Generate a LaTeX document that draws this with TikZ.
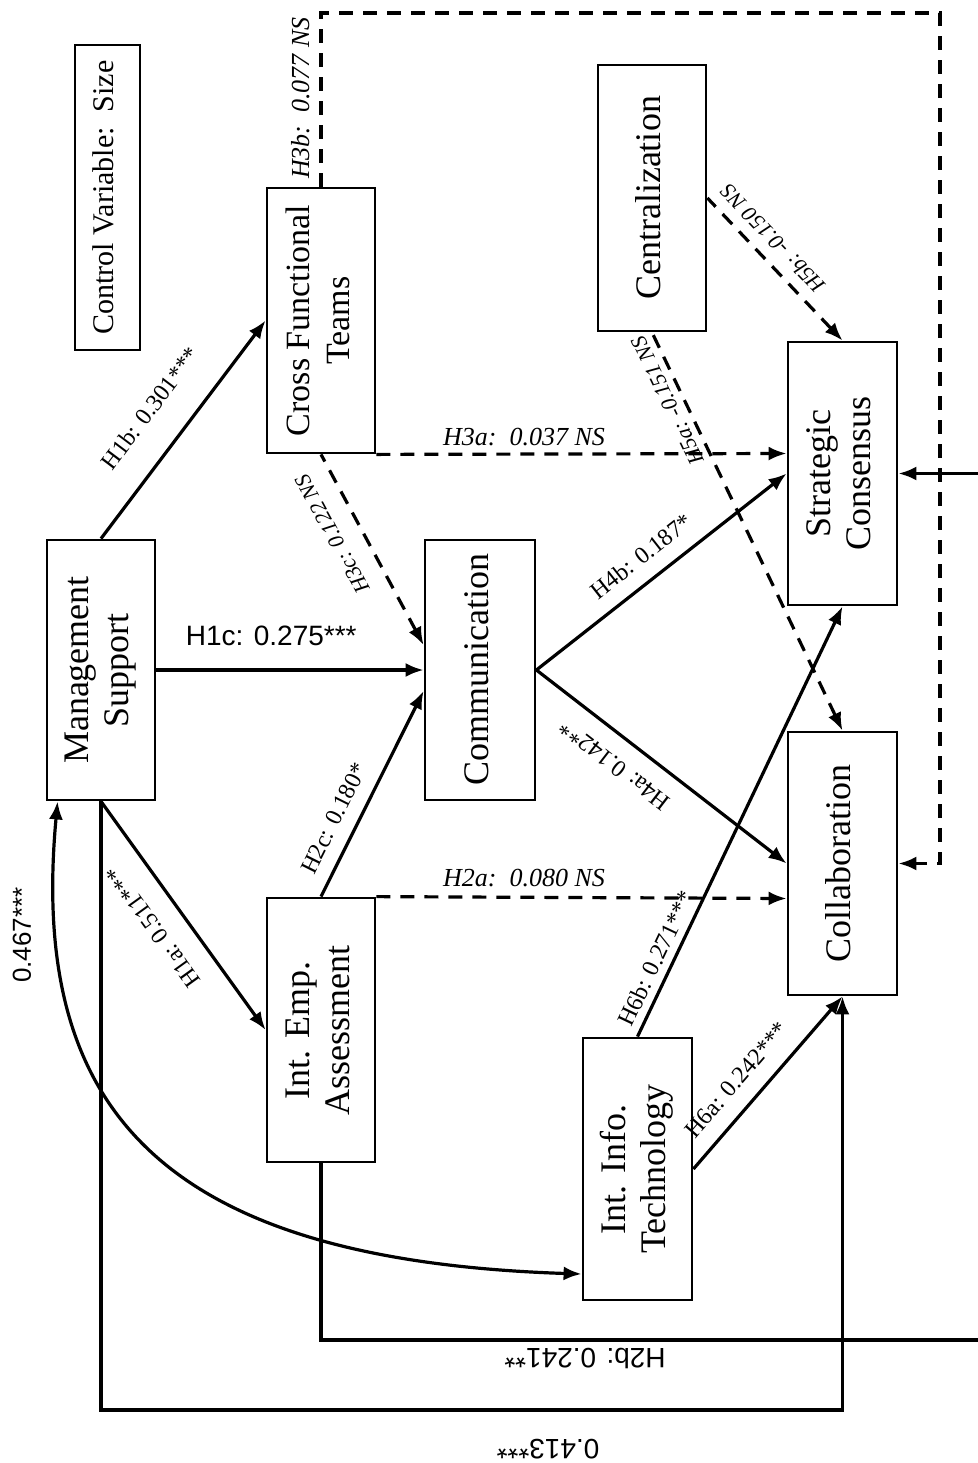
\documentclass[tikz,border=0pt]{standalone}
\usepackage{fontspec}
\usepackage{graphicx}
\setmainfont{Liberation Serif}
\newfontfamily\labsans{Liberation Sans}
\usetikzlibrary{arrows.meta,calc}
\newcommand\vlab[1]{\rotatebox{90}{\begin{tabular}{@{}c@{}}#1\end{tabular}}}
\begin{document}
\begin{tikzpicture}[x=0.5pt, y=-0.5pt,
    box/.style={draw, line width=1.4pt, inner sep=0pt, font=\fontsize{18}{20}\selectfont},
    arr/.style={line width=1.6pt, -{Latex[length=9pt,width=7pt]}},
    rarr/.style={line width=1.6pt, {Latex[length=9pt,width=7pt]}-},
    botharr/.style={line width=1.6pt, {Latex[length=9pt,width=7pt]}-{Latex[length=9pt,width=7pt]}},
    nsline/.style={dash pattern=on 7pt off 5pt},
    lab/.style={sloped, inner sep=1pt, font=\fontsize{12}{12}\selectfont},
    nslab/.style={sloped, inner sep=1pt, font=\fontsize{11}{11}\selectfont\itshape},
    flip/.style={allow upside down},
    hlab/.style={inner sep=1pt, font=\labsans\fontsize{14}{14}\selectfont},
    ilab/.style={inner sep=1pt, font=\fontsize{13}{13}\selectfont\itshape}
]
\useasboundingbox (0,0) rectangle (978,1463);

% constructs
\node[box, minimum width=32.5pt, minimum height=152.5pt, font=\fontsize{15}{15}\selectfont] (ctrl) at (107.5,197.5) {\vlab{Control Variable:~~Size}};
\node[box, minimum width=54pt, minimum height=130pt] (ms) at (101,670) {\vlab{Management\\Support}};
\node[box, minimum width=54pt, minimum height=132.5pt, font=\fontsize{17}{20}\selectfont] (cft) at (321,320.5) {\vlab{Cross Functional\\Teams}};
\node[box, minimum width=55pt, minimum height=130pt] (comm) at (480,670) {\vlab{Communication}};
\node[box, minimum width=54pt, minimum height=132pt] (iea) at (321,1030) {\vlab{Int. Emp.\\Assessment}};
\node[box, minimum width=54pt, minimum height=133pt] (cent) at (652,198) {\vlab{Centralization}};
\node[box, minimum width=54.5pt, minimum height=131.5pt] (sc) at (842.5,473.5) {\vlab{Strategic\\Consensus}};
\node[box, minimum width=54.5pt, minimum height=131.5pt] (col) at (842.5,863.5) {\vlab{Collaboration}};
\node[box, minimum width=54.5pt, minimum height=131pt] (iit) at (637.5,1169) {\vlab{Int. Info.\\Technology}};

% corners of the outer paths
\coordinate (tr) at (940,13);
\coordinate (br) at (995,1340);
\coordinate (bl) at (842.5,1410);

% management support
\draw[arr] (ms.north) -- node[lab, above=13.6pt, pos=0.49] (l1b) {H1b: 0.301***} (cft.west);
\draw[arr] (ms.east) -- node[hlab, above=10.5pt, pos=0.43] (l1c) {H1c: 0.275***} (comm.west);
\draw[rarr] (iea.west) -- node[lab, flip, above=9.4pt, pos=0.53] (l1a) {H1a: 0.511***} (ms.south);
\draw[arr] (ms.south) |- (bl) -- (col.south);
\draw[botharr] ($(iit.west)+(0,105)$) .. controls (150,1260) and (30,1100) .. ($(ms.south west)+(12,0)$);

% cross functional teams
\draw[rarr, nsline] ($(comm.west)+(0,-25)$) -- node[nslab, flip, above=8.2pt, pos=0.65] (l3c) {H3c: 0.122 NS} (cft.south);
\draw[arr, nsline] (cft.south east) -- node[ilab, above=2.5pt, pos=0.36] (l3a) {H3a:~~0.037 NS} ($(sc.west)+(0,-20)$);
\draw[arr, nsline] (cft.north) |- node[ilab, sloped, above=4pt, pos=0.255] (l3b) {H3b:~~0.077 NS} (tr) |- (col.east);

% int. emp. assessment
\draw[arr] (iea.north) -- node[lab, above=5.8pt, pos=0.33] (l2c) {H2c: 0.180*} ($(comm.west)+(0,21)$);
\draw[arr, nsline] (iea.north east) -- node[ilab, above=3.5pt, pos=0.36] (l2a) {H2a:~~0.080 NS} ($(col.west)+(0,35)$);
\draw[arr] (iea.south) |- (br) |- (sc.east);

% communication
\draw[arr] (comm.east) -- node[lab, above=6.3pt, pos=0.48] (l4b) {H4b: 0.187*} (sc.west);
\draw[rarr] (col.west) -- node[lab, flip, above=7.8pt, pos=0.62] (l4a) {H4a: 0.142**} (comm.east);

% centralization
\draw[rarr, nsline] (sc.north) -- node[nslab, flip, below=4pt, pos=0.62] (l5b) {H5b: -0.150 NS} (cent.east);
\draw[rarr, nsline] (col.north) -- node[nslab, flip, above=2pt, pos=0.845] (l5a) {H5a: -0.151 NS} (cent.south);

% int. info. technology
\draw[arr] (iit.north) -- node[lab, above=2.5pt, pos=0.165] (l6b) {H6b: 0.271***} (sc.south);
\draw[arr] (iit.east) -- node[lab, above=7pt, pos=0.42] (l6a) {H6a: 0.242***} (col.south);

% labels of the outer paths
\node[hlab, rotate=180] (l2b) at (585,1358) {H2b: 0.241**};
\node[hlab, rotate=180] (l413) at (548,1449) {0.413***};
\node[hlab, rotate=90, font=\labsans\fontsize{13}{13}\selectfont] (l467) at (22,935) {0.467***};
\end{tikzpicture}
\end{document}
